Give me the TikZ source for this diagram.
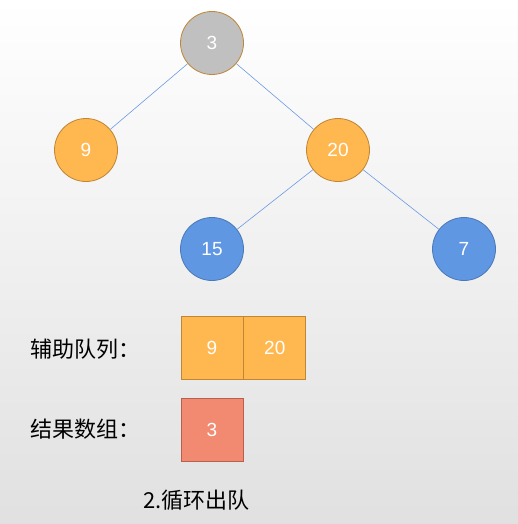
\documentclass[tikz,border=0pt]{standalone}
\usepackage{fontspec}
\setmainfont{Liberation Sans}
\newfontfamily\cjk{Noto Sans CJK SC}
\usetikzlibrary{positioning}

\definecolor{treegray}{HTML}{C0C0C0}
\definecolor{treeorange}{HTML}{FFB74F}
\definecolor{orangeline}{HTML}{BF8636}
\definecolor{treeblue}{HTML}{6097E3}
\definecolor{blueline}{HTML}{4A78B8}
\definecolor{edgeblue}{HTML}{6E9BE0}
\definecolor{resultred}{HTML}{F28A72}
\definecolor{redline}{HTML}{B86050}

\tikzset{
  treenode/.style={circle, minimum size=63pt, inner sep=0pt, line width=0.8pt,
    text=white, font=\fontsize{19}{22}\selectfont},
  graynode/.style={treenode, fill=treegray, draw=orangeline},
  orangenode/.style={treenode, fill=treeorange, draw=orangeline},
  bluenode/.style={treenode, fill=treeblue, draw=blueline},
  cell/.style={rectangle, minimum width=62pt, minimum height=63pt, inner sep=0pt,
    line width=0.8pt, text=white, font=\fontsize{19}{22}\selectfont},
  queuecell/.style={cell, fill=treeorange, draw=orangeline},
  resultcell/.style={cell, fill=resultred, draw=redline},
  caption/.style={font=\cjk\fontsize{22}{26}\selectfont, text=black, inner sep=0pt},
  edge/.style={draw=edgeblue, line width=0.6pt}
}

\begin{document}
\begin{tikzpicture}[x=1pt, y=-1pt]
  \shade[top color=white, bottom color=black!12] (0,0) rectangle (518,524);
  \useasboundingbox (0,0) rectangle (518,524);

  % tree
  \node[graynode] (root) at (212,43) {3};
  \node[orangenode] (n9) at (86,150) {9};
  \node[orangenode] (n20) at (338,150) {20};
  \node[bluenode] (n15) at (212,249) {15};
  \node[bluenode] (n7) at (464,249) {7};

  \draw[edge] (root) -- (n9);
  \draw[edge] (root) -- (n20);
  \draw[edge] (n20) -- (n15);
  \draw[edge] (n20) -- (n7);

  % queue and result
  \node[queuecell] (q9) at (212,347.5) {9};
  \node[queuecell, right=0pt of q9] (q20) {20};
  \node[resultcell] (r3) at (212,429.5) {3};

  \node[caption, anchor=west] (qlabel) at (30,349) {辅助队列：};
  \node[caption, anchor=west] (rlabel) at (30,429) {结果数组：};
  \node[caption, anchor=west] (step) at (143,500) {2.循环出队};
\end{tikzpicture}
\end{document}
